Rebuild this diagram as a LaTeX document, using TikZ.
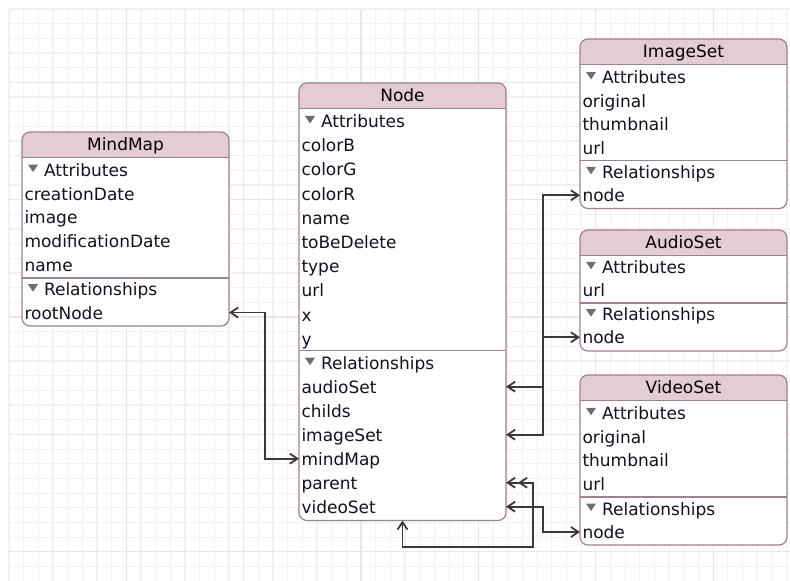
\documentclass[tikz,border=0pt]{standalone}
\usepackage{fontspec}
\setmainfont{DejaVu Sans}
\usetikzlibrary{arrows.meta}

\definecolor{gridminor}{RGB}{241,241,241}
\definecolor{gridmajor}{RGB}{231,231,231}
\definecolor{headfill}{RGB}{228,204,213}
\definecolor{boxline}{RGB}{160,128,140}
\definecolor{rowink}{RGB}{18,18,32}
\definecolor{linkgray}{RGB}{58,58,58}
\definecolor{trigray}{RGB}{110,110,110}

% entity box: id, title, left, top, bottom, y of the divider line
\newcommand{\erentity}[6]{%
  \node[entity, minimum height={(#5-#4)*1pt}, anchor=north west] (#1) at (#3,#4) {};
  \begin{scope}
    \clip[rounded corners=8pt] (#1.north west) rectangle (#1.south east);
    \fill[headfill] (#1.north west) rectangle ([yshift=-25.5pt]#1.north east);
  \end{scope}
  \draw[sepline] ([yshift=-25.5pt]#1.north west) -- ([yshift=-25.5pt]#1.north east);
  \draw[sepline] (#1.west |- 0,#6) -- (#1.east |- 0,#6);
  \draw[boxborder] (#1.north west) rectangle (#1.south east);
  \node[titletext, anchor=base] (#1-title) at ([yshift=-18.5pt]#1.north) {#2};
}
% section heading with its disclosure triangle: id, key, baseline, text
\newcommand{\ersection}[4]{%
  \node[rowtext, anchor=base west, xshift=22pt] (#1-#2) at (#1.west |- 0,#3) {#4};
  \fill[trigray] ([xshift=-16pt,yshift=11.5pt]#1-#2.base west) -- ++(10,0) -- ++(-5,7.5) -- cycle;
}
% plain row: id, key, baseline, text
\newcommand{\errow}[4]{%
  \node[rowtext, anchor=base west, xshift=2.5pt] (#1-#2) at (#1.west |- 0,#3) {#4};
}

\begin{document}
\begin{tikzpicture}[x=1pt,y=-1pt,
  entity/.style={fill=white, rounded corners=8pt, minimum width=207pt,
    inner sep=0pt, outer sep=0pt},
  boxborder/.style={draw=boxline, line width=1.2pt, rounded corners=8pt},
  sepline/.style={draw=boxline, line width=1.2pt},
  rowtext/.style={inner sep=0pt, outer sep=0pt, text height=17pt, text depth=4pt,
    text=rowink, font=\fontsize{17pt}{20pt}\selectfont},
  titletext/.style={inner sep=0pt, text=black, font=\fontsize{17pt}{20pt}\selectfont},
  link/.style={draw=linkgray, line width=1.8pt},
  rel/.style={link,
    arrows={Straight Barb[length=7.5pt,width=10pt]-Straight Barb[length=7.5pt,width=10pt]}},
  tipend/.style={link, arrows={-Straight Barb[length=7.5pt,width=10pt]}},
]
\useasboundingbox (0,0) rectangle (790,581);
\fill[white] (0,0) rectangle (790,581);

% background grid
\foreach \i in {0,...,53}
  \draw[gridminor, line width=1.2pt] ({9+14.67*\i},9) -- ({9+14.67*\i},581);
\foreach \j in {0,...,39}
  \draw[gridminor, line width=1.2pt] (9,{9+14.67*\j}) -- (790,{9+14.67*\j});
\foreach \i in {8,16,...,48}
  \draw[gridmajor, line width=1.2pt] ({9+14.67*\i},9) -- ({9+14.67*\i},581);
\foreach \j in {5,13,21,29,37}
  \draw[gridmajor, line width=1.2pt] (9,{9+14.67*\j}) -- (790,{9+14.67*\j});

% MindMap
\erentity{mm}{MindMap}{22}{132}{326}{278}
\ersection{mm}{attrs}{176}{Attributes}
\errow{mm}{creationDate}{200}{creationDate}
\errow{mm}{image}{223.7}{image}
\errow{mm}{modificationDate}{247.5}{modificationDate}
\errow{mm}{name}{271.7}{name}
\ersection{mm}{rels}{295.7}{Relationships}
\errow{mm}{rootNode}{319}{rootNode}

% Node
\erentity{nd}{Node}{299}{83}{520.5}{350.7}
\ersection{nd}{attrs}{127.4}{Attributes}
\errow{nd}{colorB}{151.6}{colorB}
\errow{nd}{colorG}{175.8}{colorG}
\errow{nd}{colorR}{200}{colorR}
\errow{nd}{name}{224.2}{name}
\errow{nd}{toBeDelete}{248.4}{toBeDelete}
\errow{nd}{type}{272.6}{type}
\errow{nd}{url}{296.8}{url}
\errow{nd}{x}{321}{x}
\errow{nd}{y}{345.2}{y}
\ersection{nd}{rels}{369.2}{Relationships}
\errow{nd}{audioSet}{393.2}{audioSet}
\errow{nd}{childs}{417.2}{childs}
\errow{nd}{imageSet}{441.2}{imageSet}
\errow{nd}{mindMap}{465.2}{mindMap}
\errow{nd}{parent}{489.2}{parent}
\errow{nd}{videoSet}{513.2}{videoSet}

% ImageSet
\erentity{is}{ImageSet}{580}{39}{208.5}{160.7}
\ersection{is}{attrs}{83.5}{Attributes}
\errow{is}{original}{107.2}{original}
\errow{is}{thumbnail}{130.9}{thumbnail}
\errow{is}{url}{154.6}{url}
\ersection{is}{rels}{178.3}{Relationships}
\errow{is}{node}{201.8}{node}

% AudioSet
\erentity{as}{AudioSet}{580}{230}{351}{303}
\ersection{as}{attrs}{273.3}{Attributes}
\errow{as}{url}{296.5}{url}
\ersection{as}{rels}{320.7}{Relationships}
\errow{as}{node}{343.8}{node}

% VideoSet
\erentity{vs}{VideoSet}{580}{375}{545}{497}
\ersection{vs}{attrs}{419.3}{Attributes}
\errow{vs}{original}{443}{original}
\errow{vs}{thumbnail}{466.7}{thumbnail}
\errow{vs}{url}{490.5}{url}
\ersection{vs}{rels}{515}{Relationships}
\errow{vs}{node}{538.5}{node}

% relationships
\draw[rel] (mm.east |- mm-rootNode) -- (265,0 |- mm-rootNode)
  -- (265,0 |- nd-mindMap) -- (nd.west |- nd-mindMap);
\draw[rel] (nd.east |- nd-imageSet) -- (543,0 |- nd-imageSet)
  -- (543,0 |- is-node) -- (is.west |- is-node);
\draw[rel] (nd.east |- nd-audioSet) -- (543,0 |- nd-audioSet)
  -- (543,0 |- as-node) -- (as.west |- as-node);
\draw[rel] (nd.east |- nd-videoSet) -- (543,0 |- nd-videoSet)
  -- (543,0 |- vs-node) -- (vs.west |- vs-node);
% to-many self relationship: second chevron marks the "many" end
\draw[rel] (nd.east |- nd-parent) -- (533,0 |- nd-parent)
  -- (533,547) -- (nd.south |- 0,547) -- (nd.south);
\draw[tipend] (533,0 |- nd-parent) -- ([xshift=12pt]nd.east |- nd-parent);
\end{tikzpicture}
\end{document}
